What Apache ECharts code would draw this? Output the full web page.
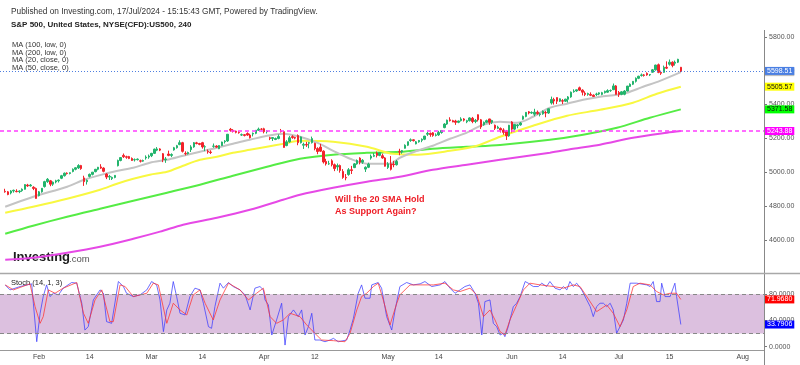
<!DOCTYPE html>
<html><head><meta charset="utf-8">
<script src="https://cdn.jsdelivr.net/npm/echarts@6/dist/echarts.min.js"></script>
<style>html,body{margin:0;padding:0;background:#fff}#c{width:800px;height:365px}</style>
</head><body><div id="c"></div>
<script>
// x positions are candle indices (2 candles per trading day, index 0 = 24 Jan 2024)
const tickIndex = [12,30,52,70,92,110,136,154,180,198,218,236,262];
const tickLabels = ['Feb','14','Mar','14','Apr','12','May','14','Jun','14','Jul','15','Aug'];
const priceTicks = [4600,4800,5000,5200,5400,5600,5800];
const stochTicks = [0,40,80];

// [open, close, low, high]
const candles = [
[4888,4885,4880,4903],[4885,4869,4865,4890],[4878,4890,4870,4895],[4890,4894,4880,4898],[4888,4886,4882,4900],[4886,4890,4877,4894],
[4892,4900,4885,4905],[4900,4928,4898,4929],[4925,4920,4914,4932],[4920,4925,4916,4931],[4912,4905,4895,4918],[4905,4846,4845,4910],
[4862,4885,4858,4890],[4885,4906,4880,4907],[4916,4945,4910,4950],[4945,4959,4938,4966],
[4950,4930,4918,4955],[4930,4942,4920,4946],[4943,4950,4935,4956],[4950,4954,4940,4958],[4965,4980,4960,4985],[4980,4995,4975,4999],[4995,4993,4987,5000],[4993,4998,4988,5000],[5005,5018,5000,5023],[5018,5027,5012,5030],
[5026,5040,5020,5048],[5040,5022,5015,5044],[4967,4945,4920,4980],[4945,4953,4928,4958],[4976,4988,4970,4993],[4988,5001,4982,5002],[5004,5018,5000,5020],[5018,5030,5012,5032],[5032,5025,5020,5048],[5025,5006,5000,5030],
[4990,4972,4960,4995],[4972,4976,4955,4985],[4963,4970,4955,4975],[4970,4982,4965,4984],[5039,5070,5035,5075],[5070,5087,5065,5090],[5100,5092,5085,5111],[5092,5089,5080,5098],
[5093,5082,5078,5097],[5082,5070,5068,5088],[5074,5075,5064,5082],[5075,5078,5070,5082],[5068,5066,5058,5075],[5066,5070,5062,5075],[5085,5090,5075,5100],[5090,5096,5080,5105],[5098,5112,5090,5115],[5112,5137,5108,5140],
[5131,5138,5125,5149],[5138,5131,5125,5142],[5110,5075,5060,5114],[5075,5079,5056,5090],[5108,5100,5095,5128],[5100,5105,5090,5112],[5132,5145,5128,5150],[5145,5157,5140,5162],[5164,5175,5160,5189],[5175,5124,5117,5180],
[5112,5110,5100,5124],[5110,5117,5105,5122],[5134,5150,5120,5160],[5150,5175,5145,5179],[5174,5170,5165,5180],[5170,5165,5160,5174],[5175,5150,5140,5180],[5150,5151,5125,5160],[5124,5120,5110,5135],[5120,5117,5108,5130],
[5154,5155,5145,5170],[5155,5149,5145,5160],[5139,5158,5137,5160],[5158,5179,5155,5181],[5181,5185,5170,5190],[5185,5225,5180,5226],[5254,5248,5240,5262],[5248,5241,5235,5255],[5243,5236,5230,5246],[5236,5234,5228,5243],
[5220,5222,5215,5229],[5222,5218,5212,5226],[5229,5220,5215,5236],[5220,5204,5200,5228],[5226,5230,5212,5235],[5230,5248,5225,5250],[5248,5255,5245,5264],[5255,5254,5248,5261],
[5257,5240,5230,5263],[5240,5243,5229,5248],[5204,5200,5190,5210],[5200,5205,5185,5208],[5194,5200,5190,5205],[5200,5211,5195,5224],[5244,5240,5235,5256],[5240,5147,5146,5245],[5158,5180,5154,5190],[5180,5204,5175,5215],
[5211,5205,5198,5219],[5205,5202,5195,5210],[5217,5175,5160,5224],[5175,5209,5170,5212],[5160,5165,5138,5175],[5165,5161,5150,5180],[5172,5175,5142,5180],[5175,5199,5170,5211],[5171,5140,5130,5175],[5140,5123,5107,5148],
[5149,5125,5120,5168],[5125,5061,5052,5130],[5064,5050,5040,5080],[5050,5051,5044,5068],[5068,5045,5035,5077],[5045,5022,5007,5052],[5032,5040,5010,5052],[5040,5011,4998,5046],[5005,4970,4962,5019],[4970,4967,4953,4990],
[4987,5015,4980,5025],[5015,5011,4990,5038],[5028,5050,5025,5055],[5050,5070,5045,5076],[5084,5060,5047,5089],[5060,5071,5050,5078],[5019,5030,5002,5035],[5030,5048,5025,5057],[5084,5095,5075,5105],[5095,5100,5090,5114],
[5114,5100,5088,5123],[5100,5116,5095,5118],[5098,5085,5080,5110],[5085,5036,5034,5090],[5029,5050,5020,5060],[5050,5018,5011,5096],[5049,5045,5030,5068],[5045,5064,5040,5073],[5122,5120,5101,5139],[5120,5128,5110,5132],
[5142,5160,5140,5165],[5160,5181,5155,5181],[5188,5192,5180,5200],[5192,5187,5182,5195],[5168,5180,5165,5185],[5180,5188,5175,5191],[5189,5195,5178,5200],[5195,5214,5190,5215],[5225,5230,5215,5239],[5230,5223,5210,5235],
[5233,5218,5210,5238],[5218,5221,5212,5230],[5221,5235,5215,5245],[5235,5247,5228,5250],[5264,5285,5260,5290],[5285,5308,5280,5311],[5310,5305,5300,5325],[5305,5297,5296,5310],[5303,5295,5280,5310],[5295,5303,5290,5305],
[5305,5315,5300,5325],[5315,5308,5300,5320],[5298,5305,5290,5310],[5305,5321,5300,5325],[5319,5300,5290,5327],[5300,5307,5290,5315],[5340,5310,5300,5342],[5310,5268,5256,5315],[5281,5295,5275,5300],[5295,5305,5290,5311],
[5315,5295,5280,5316],[5295,5306,5285,5310],[5278,5260,5250,5282],[5260,5267,5255,5275],[5259,5250,5235,5265],[5250,5236,5222,5260],[5244,5215,5191,5250],[5215,5278,5210,5280],
[5297,5255,5235,5302],[5255,5283,5250,5285],[5275,5280,5260,5285],[5280,5291,5275,5297],[5314,5330,5310,5335],[5330,5354,5325,5355],[5357,5350,5342,5362],[5350,5353,5345,5360],[5343,5355,5331,5375],[5355,5347,5340,5365],
[5341,5345,5330,5352],[5345,5361,5340,5365],[5353,5350,5325,5362],[5350,5375,5345,5376],[5409,5430,5400,5447],[5430,5421,5400,5440],[5441,5420,5403,5442],[5420,5434,5415,5436],[5423,5420,5403,5432],[5420,5432,5415,5434],
[5431,5445,5412,5450],[5445,5473,5440,5477],[5476,5480,5470,5490],[5480,5487,5475,5489],[5499,5485,5480,5506],[5485,5473,5454,5490],[5467,5460,5450,5478],[5460,5465,5452,5470],
[5460,5455,5450,5472],[5455,5448,5445,5460],[5460,5462,5451,5470],[5462,5469,5455,5472],[5460,5470,5455,5475],[5470,5478,5465,5482],[5473,5482,5470,5490],[5482,5483,5475,5489],[5488,5510,5485,5524],[5510,5460,5460,5515],
[5471,5460,5445,5480],[5460,5475,5455,5479],[5461,5480,5455,5485],[5480,5509,5478,5510],[5507,5520,5505,5525],[5520,5537,5515,5539],[5537,5555,5530,5560],[5555,5567,5550,5570],
[5572,5575,5565,5583],[5575,5572,5565,5580],[5584,5575,5570,5590],[5575,5577,5568,5580],[5591,5605,5588,5610],[5605,5633,5600,5635],[5635,5590,5585,5642],[5590,5585,5575,5600],[5590,5620,5588,5630],[5620,5615,5610,5655],
[5638,5650,5630,5666],[5650,5631,5620,5655],[5644,5650,5630,5660],[5650,5667,5645,5670],[5620,5598.51,5592,5622]
];

// moving averages: [candle index, value]
const ma20 = [[0,4797],[10,4856],[22,4915],[28,4956],[34,4985],[40,5009],[45.5,5027],[51.4,5057],[57.5,5074],[63.2,5098],[69.2,5122],[75.2,5145],[80.9,5169],[86.9,5192],[93,5216],[98.7,5228],[104.7,5210],[110.8,5175],[116.5,5127],[122.5,5080],[128.5,5051],[136.7,5051],[140.2,5086],[146.3,5127],[151.9,5157],[158,5198],[164,5234],[169.7,5281],[175.8,5299],[181.8,5293],[187.5,5328],[193.5,5381],[199.6,5405],[205.3,5428],[211.3,5446],[217.3,5458],[220.9,5470],[226.6,5505],[232.6,5540],[240,5591.37]];
const ma50 = [[0,4762],[9.9,4797],[22,4844],[33.7,4897],[39.7,4933],[45.5,4962],[51.4,4986],[57.5,5003],[63.2,5039],[69.2,5074],[75.2,5092],[80.9,5115],[86.9,5133],[93,5151],[98.7,5168],[104.7,5186],[116.5,5180],[128.5,5151],[137.8,5109],[146.3,5104],[158,5127],[167.6,5157],[175.8,5210],[187.5,5275],[199.6,5334],[211.3,5369],[223,5411],[231.5,5464],[240,5505.57]];
const ma100 = [[0,4638],[9.9,4685],[22,4738],[33.7,4785],[45.5,4832],[57.5,4880],[69.2,4927],[80.9,4980],[93,5033],[104.7,5080],[116.5,5104],[128.5,5115],[140.2,5121],[151.9,5139],[164,5151],[175.8,5162],[193.5,5192],[205.3,5222],[217.3,5263],[229,5322],[240,5371.58]];
const ma200 = [[0,4484],[9.9,4496],[22,4526],[33.7,4561],[45.5,4608],[55,4650],[63.2,4691],[75.2,4732],[86.9,4779],[98.7,4838],[104.7,4868],[116.5,4909],[128.5,4945],[140.2,4974],[151.9,5015],[164,5045],[175.8,5074],[193.5,5116],[201.7,5139],[211.3,5163],[223,5204],[235.1,5234],[240,5243.88]];

// stochastic (14,1,3): [candle index, value]
const stochK = [[0,94],[1.7,86.5],[5.3,91.6],[9.4,95.7],[10,66.2],[11.2,7.6],[12.4,50.9],[13.5,76.3],[14.7,94.1],[15.9,76.3],[17.1,81.4],[18.9,78.9],[20.6,89.1],[23.6,97.7],[25.4,96.7],[27.2,66.2],[28.3,25.4],[29.5,30.5],[31.3,71.2],[33.7,86.5],[34.9,81.4],[36,38.2],[37.8,35.6],[40.2,99.2],[42,91.6],[43.1,81.4],[45.5,76.3],[47.9,78.9],[50.3,86.5],[52,99.2],[53.8,94.1],[55,71.2],[56.2,22.9],[57.4,56],[58.5,66.2],[59.7,99.2],[60.9,76.3],[62.1,50.9],[63.9,48.3],[65.6,76.3],[67.4,89.1],[69.2,86.5],[70.4,66.2],[72.2,30.5],[73.3,28],[74.5,61.1],[76.3,96.7],[77.5,89.1],[79.3,97.7],[81,91.6],[83.4,86.5],[85.2,78.9],[87,56],[88.7,89.1],[90.5,91.6],[91.7,86.5],[92.3,71.2],[93.5,63.6],[94.7,17.8],[96.4,40.7],[98.2,66.2],[99.4,2.5],[100.6,45.8],[102.4,56],[104.1,45.8],[105.3,56],[106.5,17.8],[107.7,30.5],[108.9,50.9],[110,10.2],[111.8,10.2],[113.6,7.6],[115.4,10.2],[116.6,12.7],[118.3,7.6],[121.3,10.2],[122.5,25.4],[123.7,43.3],[125.4,81.4],[126.6,94.1],[127.8,73.8],[129.6,73.8],[130.2,94.1],[132.5,97.7],[133.7,89.1],[135.5,45.8],[137.3,25.4],[138.5,56],[140.2,91.6],[142.6,97.7],[145,94.1],[147.4,95.7],[149.1,99.2],[151.5,91.6],[154.5,94.1],[156.2,99.2],[158,89.1],[159.8,81.4],[161.6,86.5],[163.3,91.6],[165.1,94.1],[166.9,81.4],[168.1,66.2],[169.3,17.8],[170.4,68.7],[172.2,71.2],[173.4,35.6],[174.6,30.5],[175.8,17.8],[176.9,20.4],[177.5,15.3],[178.7,30.5],[179.9,50.9],[180.5,61.1],[181.7,66.2],[182.9,76.3],[184.7,99.2],[185.8,96.7],[187.6,91.6],[189.4,91.6],[190.6,96.7],[192.3,91.6],[193.5,99.2],[195.3,89.1],[197.1,86.5],[198.3,91.6],[199.5,86.5],[200.6,99.2],[201.8,91.6],[203,96.7],[204.8,86.5],[206.6,71.2],[207.8,61.1],[208.9,45.8],[210.1,61.1],[211.3,66.2],[212.5,66.2],[213.7,61.1],[214.9,66.2],[216,56],[217.2,20.4],[218.4,30.5],[219.6,40.7],[220.8,66.2],[222,96.7],[224.3,96.7],[227.9,94.1],[229.1,91.6],[230.2,99.2],[231.4,68.7],[232.6,68.7],[233.2,96.7],[234.4,76.3],[236.2,76.3],[237.9,96.7],[238.5,76.3],[240,33.7906]];
const stochD = [[0,94.1],[2.9,86.5],[8.8,95.7],[10.6,61.1],[12.4,35.6],[13.5,45.8],[15.3,86.5],[17.7,81.4],[20.6,89.1],[25.4,97.7],[27.8,50.9],[29.5,35.6],[31.9,71.2],[34.3,86.5],[37.2,38.2],[38.4,38.2],[40.8,94.1],[42.6,91.6],[45.5,76.3],[50.3,81.4],[52.6,96.7],[54.4,94.1],[57.4,35.6],[59.7,66.2],[62.1,56],[64.5,48.3],[66.8,78.9],[69.2,86.5],[71,66.2],[73.9,40.7],[76.3,71.2],[79.3,96.7],[83.4,86.5],[86.4,71.2],[89.3,81.4],[91.7,89.1],[94.1,45.8],[96.4,35.6],[98.8,40.7],[101.2,50.9],[104.7,45.8],[107.1,33.1],[110,20.4],[112.4,10.2],[116.6,9.2],[120.7,7.6],[122.5,20.4],[124.9,56],[126.6,76.3],[128.4,81.4],[130.8,91.6],[132.5,96.7],[134.3,71.2],[136.7,33.1],[139.1,66.2],[140.2,78.9],[143.8,94.1],[147.4,94.1],[152.1,94.1],[156.2,96.7],[159.2,86.5],[161.6,84],[165.1,89.1],[167.5,78.9],[169.9,45.8],[172.2,56],[174,40.7],[175.8,22.9],[177.5,17.8],[179.3,40.7],[181.7,63.6],[184.1,86.5],[186.4,96.7],[190,94.1],[194.7,91.6],[198.3,89.1],[201.8,94.1],[204.2,91.6],[206.6,76.3],[210.1,53.4],[213.7,63.6],[216,50.9],[218.4,30.5],[220.8,56],[223.1,91.6],[225.5,96.7],[229.1,94.1],[231.4,84],[233.8,78.9],[236.2,81.4],[238.5,81.4],[240,71.968]];
const stochBand = [20, 80];

const FONT = 'Liberation Sans, Arial, sans-serif';
const last = a => a[a.length - 1][1];
const lastClose = candles[candles.length - 1][1];

function badge(value, bg, fg, digits, lineStyle) {
  return {
    yAxis: value,
    lineStyle: lineStyle || { color: 'rgba(0,0,0,0)', width: 1 },
    label: {
      show: true, position: 'end', distance: 1,
      formatter: () => value.toFixed(digits),
      backgroundColor: bg, color: fg, padding: [1, 2, 0, 2],
      fontSize: 7, fontFamily: FONT, lineHeight: 7
    }
  };
}
function lineSeries(data, color, width, ml) {
  return {
    type: 'line', xAxisIndex: 0, yAxisIndex: 0, data, symbol: 'none', smooth: 0.3,
    lineStyle: { color, width }, silent: true, z: 2,
    markLine: { silent: true, symbol: ['none', 'none'], animation: false, data: ml }
  };
}

const chart = echarts.init(document.getElementById('c'), null, { renderer: 'canvas' });
const xCommon = { type: 'value', min: -1.854, max: 269.55, splitLine: { show: false }, axisTick: { show: false } };
chart.setOption({
  animation: false,
  backgroundColor: '#fff',
  grid: [
    { left: 0, right: 36, top: 30, height: 244 },
    { left: 0, right: 36, top: 273, height: 77 }
  ],
  xAxis: [
    Object.assign({ gridIndex: 0, axisLine: { show: false, onZero: false }, axisLabel: { show: false } }, xCommon),
    Object.assign({ gridIndex: 1, axisLine: { show: true, onZero: false, lineStyle: { color: '#999', width: 1 } },
      axisLabel: { customValues: tickIndex, formatter: v => tickLabels[tickIndex.indexOf(v)] || '',
        fontSize: 7, color: '#444', fontFamily: FONT, margin: 4 } }, xCommon)
  ],
  yAxis: [
    { gridIndex: 0, type: 'value', position: 'right', min: 4400, max: 5840, splitLine: { show: false },
      axisLine: { show: false, onZero: false },
      axisTick: { show: true, customValues: priceTicks, length: 3, lineStyle: { color: '#777' } },
      axisLabel: { customValues: priceTicks, formatter: v => v.toFixed(2), fontSize: 7, color: '#555', fontFamily: FONT, margin: 5 } },
    { gridIndex: 1, type: 'value', position: 'right', min: -5, max: 112.2, splitLine: { show: false },
      axisLine: { show: false, onZero: false },
      axisTick: { show: true, customValues: stochTicks, length: 3, lineStyle: { color: '#777' } },
      axisLabel: { customValues: stochTicks, formatter: v => v.toFixed(4), fontSize: 7, color: '#555', fontFamily: FONT, margin: 5 } }
  ],
  series: [
    lineSeries(ma200, '#e649e6', 2, [badge(last(ma200), '#ff00ff', '#fff', 2, { color: '#ff3cff', type: [4, 3], width: 1.5 })]),
    lineSeries(ma100, '#55ec45', 2, [badge(last(ma100), '#00ff00', '#111', 2)]),
    lineSeries(ma50, '#f8f840', 2, [badge(last(ma50), '#ffff00', '#111', 2)]),
    lineSeries(ma20, '#c4c4c4', 2, [badge(last(ma20), '#c0c0c0', '#111', 2)]),
    {
      type: 'candlestick', xAxisIndex: 0, yAxisIndex: 0, silent: true, z: 3,
      data: candles.map((c, i) => [i, c[0], c[1], c[2], c[3]]),
      barWidth: 2,
      itemStyle: { color: '#22b46c', color0: '#f2232b', borderColor: '#22b46c', borderColor0: '#f2232b', borderWidth: 1 },
      markLine: { silent: true, symbol: ['none', 'none'], animation: false,
        data: [badge(lastClose, '#4a7fe3', '#fff', 2, { color: '#4f7fe0', type: [1, 2], width: 1 })] }
    },
    {
      type: 'line', xAxisIndex: 1, yAxisIndex: 1, data: [[0, 50]], symbol: 'none', silent: true,
      lineStyle: { color: 'rgba(0,0,0,0)' },
      markArea: { silent: true, itemStyle: { color: '#dcc0df' }, data: [[{ yAxis: stochBand[0] }, { yAxis: stochBand[1] }]] },
      markLine: { silent: true, symbol: ['none', 'none'], animation: false, label: { show: false },
        lineStyle: { color: '#888', type: [4, 3], width: 1 },
        data: [{ yAxis: stochBand[0] }, { yAxis: stochBand[1] }] }
    },
    {
      type: 'line', xAxisIndex: 1, yAxisIndex: 1, data: stochK, symbol: 'none', silent: true,
      lineStyle: { color: 'rgba(60,60,255,0.75)', width: 1 },
      markLine: { silent: true, symbol: ['none', 'none'], animation: false, data: [badge(last(stochK), '#0000ff', '#fff', 4)] }
    },
    {
      type: 'line', xAxisIndex: 1, yAxisIndex: 1, data: stochD, symbol: 'none', silent: true,
      lineStyle: { color: 'rgba(255,50,50,0.75)', width: 1 },
      markLine: { silent: true, symbol: ['none', 'none'], animation: false, data: [badge(last(stochD), '#ff0000', '#fff', 4)] }
    }
  ],
  graphic: [
    { type: 'line', silent: true, shape: { x1: 764.5, y1: 30, x2: 764.5, y2: 365 }, style: { stroke: '#888', lineWidth: 1 }, z: 10 },
    { type: 'line', silent: true, shape: { x1: 0, y1: 273.5, x2: 800, y2: 273.5 }, style: { stroke: '#a8a8a8', lineWidth: 1.5 }, z: 10 },
    { type: 'text', silent: true, style: { x: 11, y: 12, text: 'Published on Investing.com, 17/Jul/2024 - 15:15:43 GMT, Powered by TradingView.', fill: '#333', font: '8.3px ' + FONT, textVerticalAlign: 'middle' } },
    { type: 'text', silent: true, style: { x: 11, y: 25, text: 'S&P 500, United States, NYSE(CFD):US500, 240', fill: '#222', font: 'bold 8px ' + FONT, textVerticalAlign: 'middle' } },
    { type: 'text', silent: true, z: 1, style: { x: 12, y: 45, text: 'MA (100, low, 0)', fill: '#333', font: '7.5px ' + FONT, textVerticalAlign: 'middle' } },
    { type: 'text', silent: true, z: 1, style: { x: 12, y: 52.5, text: 'MA (200, low, 0)', fill: '#333', font: '7.5px ' + FONT, textVerticalAlign: 'middle' } },
    { type: 'text', silent: true, z: 1, style: { x: 12, y: 60, text: 'MA (20, close, 0)', fill: '#333', font: '7.5px ' + FONT, textVerticalAlign: 'middle' } },
    { type: 'text', silent: true, z: 1, style: { x: 12, y: 67.5, text: 'MA (50, close, 0)', fill: '#333', font: '7.5px ' + FONT, textVerticalAlign: 'middle' } },
    { type: 'text', silent: true, style: { x: 335, y: 200, text: 'Will the 20 SMA Hold', fill: '#ee1c25', font: 'bold 9px ' + FONT, textVerticalAlign: 'middle' } },
    { type: 'text', silent: true, style: { x: 335, y: 211.5, text: 'As Support Again?', fill: '#ee1c25', font: 'bold 9px ' + FONT, textVerticalAlign: 'middle' } },
    { type: 'text', silent: true, style: { x: 13, y: 257, text: 'Investing', fill: '#1b1b1b', font: 'bold 13px ' + FONT, textVerticalAlign: 'middle' } },
    { type: 'text', silent: true, style: { x: 69, y: 259, text: '.com', fill: '#555', font: '9.5px ' + FONT, textVerticalAlign: 'middle' } },
    { type: 'text', silent: true, style: { x: 11, y: 283, text: 'Stoch (14, 1, 3)', fill: '#222', font: '7.5px ' + FONT, textVerticalAlign: 'middle' } }
  ]
});
</script></body></html>
